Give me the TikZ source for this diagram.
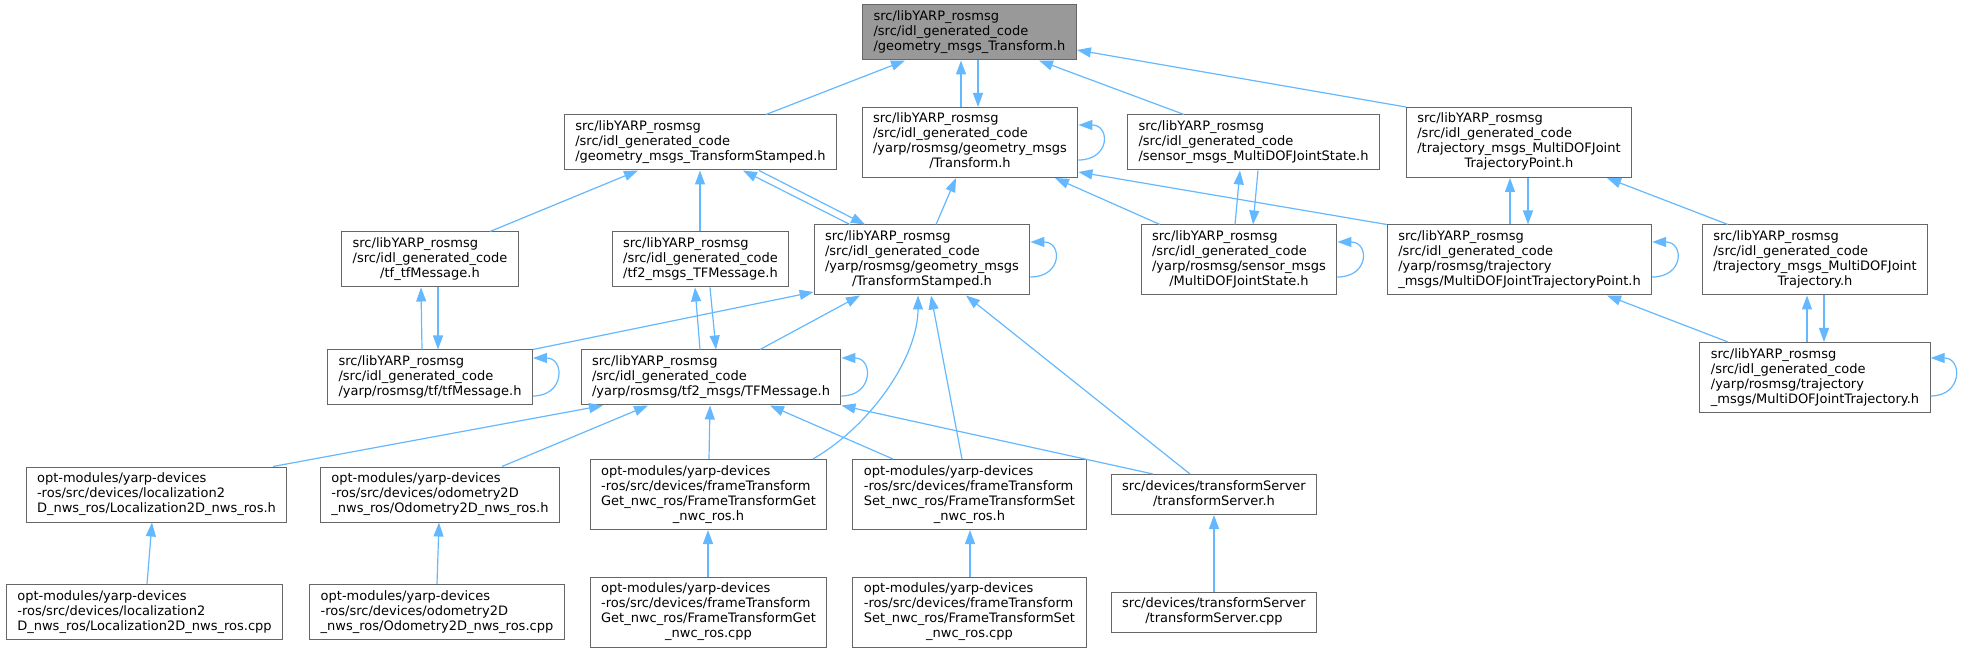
\documentclass[tikz,border=0pt]{standalone}
\usepackage{fontspec}
\setmainfont{DejaVu Sans}
\usepackage{tikz}
\usetikzlibrary{arrows.meta}
\definecolor{bleulien}{RGB}{99, 184, 255}
\definecolor{grisbord}{RGB}{102, 102, 102}
\definecolor{grisracine}{RGB}{153, 153, 153}
\newcommand{\fichier}[2]{\begin{tabular}{@{}l@{}}#1\\\multicolumn{1}{@{}c@{}}{#2}\end{tabular}}
\newcommand{\yarpgen}{src/libYARP\_rosmsg\\/src/idl\_generated\_code}
\newcommand{\optdev}{opt-modules/yarp-devices}

\begin{document}
\begin{tikzpicture}[x=0.75pt, y=-0.75pt,
  fichierbox/.style={draw=grisbord, line width=0.75pt, fill=white,
    inner xsep=8.25pt, inner ysep=3.75pt, font=\fontsize{9.75}{11.25}\selectfont},
  racine/.style={fichierbox, fill=grisracine},
  dep/.style={draw=bleulien, line width=0.9pt, -{Triangle[length=10.5pt, width=7.5pt]}}]
  \useasboundingbox (0,0) rectangle (1961,652);

  \node[racine] (root) at (969.5,32.5) {\fichier{\yarpgen}{/geometry\_msgs\_Transform.h}};

  \node[fichierbox] (gmts) at (700.5,142.5) {\fichier{\yarpgen}{/geometry\_msgs\_TransformStamped.h}};
  \node[fichierbox] (yt) at (970,142.5) {\fichier{\yarpgen\\/yarp/rosmsg/geometry\_msgs}{/Transform.h}};
  \node[fichierbox] (smj) at (1253.5,142.5) {\fichier{\yarpgen}{/sensor\_msgs\_MultiDOFJointState.h}};
  \node[fichierbox] (tmp) at (1519,142.5) {\fichier{\yarpgen\\/trajectory\_msgs\_MultiDOFJoint}{TrajectoryPoint.h}};

  \node[fichierbox] (tf) at (430,259.5) {\fichier{\yarpgen}{/tf\_tfMessage.h}};
  \node[fichierbox] (tf2) at (700.5,259.5) {\fichier{\yarpgen}{/tf2\_msgs\_TFMessage.h}};
  \node[fichierbox] (yts) at (922,260) {\fichier{\yarpgen\\/yarp/rosmsg/geometry\_msgs}{/TransformStamped.h}};
  \node[fichierbox] (ysm) at (1239,260) {\fichier{\yarpgen\\/yarp/rosmsg/sensor\_msgs}{/MultiDOFJointState.h}};
  \node[fichierbox] (ytp) at (1519.5,260) {\fichier{\yarpgen\\/yarp/rosmsg/trajectory}{\_msgs/MultiDOFJointTrajectoryPoint.h}};
  \node[fichierbox] (tmt) at (1815,260) {\fichier{\yarpgen\\/trajectory\_msgs\_MultiDOFJoint}{Trajectory.h}};

  \node[fichierbox] (ytf) at (430,377.5) {\fichier{\yarpgen}{/yarp/rosmsg/tf/tfMessage.h}};
  \node[fichierbox] (ytf2) at (711,377.5) {\fichier{\yarpgen}{/yarp/rosmsg/tf2\_msgs/TFMessage.h}};
  \node[fichierbox] (ytt) at (1815,377.5) {\fichier{\yarpgen\\/yarp/rosmsg/trajectory}{\_msgs/MultiDOFJointTrajectory.h}};

  \node[fichierbox] (loch) at (156.5,494.5) {\fichier{\optdev\\-ros/src/devices/localization2}{D\_nws\_ros/Localization2D\_nws\_ros.h}};
  \node[fichierbox] (odoh) at (440,494.5) {\fichier{\optdev\\-ros/src/devices/odometry2D}{\_nws\_ros/Odometry2D\_nws\_ros.h}};
  \node[fichierbox] (fgh) at (708.5,494.5) {\fichier{\optdev\\-ros/src/devices/frameTransform\\Get\_nwc\_ros/FrameTransformGet}{\_nwc\_ros.h}};
  \node[fichierbox] (fsh) at (969.5,494.5) {\fichier{\optdev\\-ros/src/devices/frameTransform\\Set\_nwc\_ros/FrameTransformSet}{\_nwc\_ros.h}};
  \node[fichierbox] (tsh) at (1214,494.5) {\fichier{src/devices/transformServer}{/transformServer.h}};

  \node[fichierbox] (loccpp) at (144.5,612) {\fichier{\optdev\\-ros/src/devices/localization2}{D\_nws\_ros/Localization2D\_nws\_ros.cpp}};
  \node[fichierbox] (odocpp) at (437,612) {\fichier{\optdev\\-ros/src/devices/odometry2D}{\_nws\_ros/Odometry2D\_nws\_ros.cpp}};
  \node[fichierbox] (fgcpp) at (708.5,612) {\fichier{\optdev\\-ros/src/devices/frameTransform\\Get\_nwc\_ros/FrameTransformGet}{\_nwc\_ros.cpp}};
  \node[fichierbox] (fscpp) at (969.5,612) {\fichier{\optdev\\-ros/src/devices/frameTransform\\Set\_nwc\_ros/FrameTransformSet}{\_nwc\_ros.cpp}};
  \node[fichierbox] (tscpp) at (1214,612) {\fichier{src/devices/transformServer}{/transformServer.cpp}};

  \draw[dep] (766,0 |- gmts.north) -- (905,0 |- root.south);
  \draw[dep] (961,0 |- yt.north) -- (961,0 |- root.south);
  \draw[dep] (978,0 |- root.south) -- (978,0 |- yt.north);
  \draw[dep] (1184,0 |- smj.north) -- (1039,0 |- root.south);
  \draw[dep] (tmp.north west) -- (root.east |- 0,50);

  \draw[dep] (490,0 |- tf.north) -- (638,0 |- gmts.south);
  \draw[dep] (700,0 |- tf2.north) -- (700,0 |- gmts.south);
  \draw[dep] (850,0 |- yts.north) -- (743,0 |- gmts.south);
  \draw[dep] (759,0 |- gmts.south) -- (865,0 |- yts.north);
  \draw[dep] (936,0 |- yts.north) -- (956,0 |- yt.south);
  \draw[dep] (yt.east |- 0,160) .. controls +(32,0) and +(32,0) .. (yt.east |- 0,125);
  \draw[dep] (1160,0 |- ysm.north) -- (1055,0 |- yt.south);
  \draw[dep] (ytp.north west) -- (yt.east |- 0,172);
  \draw[dep] (1235,0 |- ysm.north) -- (1240,0 |- smj.south);
  \draw[dep] (1258,0 |- smj.south) -- (1253,0 |- ysm.north);
  \draw[dep] (1510,0 |- ytp.north) -- (1510,0 |- tmp.south);
  \draw[dep] (1528,0 |- tmp.south) -- (1528,0 |- ytp.north);
  \draw[dep] (1728,0 |- tmt.north) -- (1607,0 |- tmp.south);

  \draw[dep] (yts.east |- 0,277) .. controls +(32,0) and +(32,0) .. (yts.east |- 0,242);
  \draw[dep] (ysm.east |- 0,277) .. controls +(32,0) and +(32,0) .. (ysm.east |- 0,242);
  \draw[dep] (ytp.east |- 0,277) .. controls +(32,0) and +(32,0) .. (ytp.east |- 0,242);

  \draw[dep] (422,0 |- ytf.north) -- (421,0 |- tf.south);
  \draw[dep] (438,0 |- tf.south) -- (438,0 |- ytf.north);
  \draw[dep] (ytf.north east) -- (yts.west |- 0,292);
  \draw[dep] (700,0 |- ytf2.north) -- (695,0 |- tf2.south);
  \draw[dep] (710,0 |- tf2.south) -- (716,0 |- ytf2.north);
  \draw[dep] (760,0 |- ytf2.north) -- (860,0 |- yts.south);
  \draw[dep] (1728,0 |- ytt.north) -- (1607,0 |- ytp.south);
  \draw[dep] (1807,0 |- ytt.north) -- (1807,0 |- tmt.south);
  \draw[dep] (1824,0 |- tmt.south) -- (1824,0 |- ytt.north);

  \draw[dep] (ytf.east |- 0,396) .. controls +(32,0) and +(32,0) .. (ytf.east |- 0,358);
  \draw[dep] (ytf2.east |- 0,396) .. controls +(32,0) and +(32,0) .. (ytf2.east |- 0,358);
  \draw[dep] (ytt.east |- 0,396) .. controls +(32,0) and +(32,0) .. (ytt.east |- 0,358);

  \draw[dep] (273,0 |- loch.north) -- (603,0 |- ytf2.south);
  \draw[dep] (502,0 |- odoh.north) -- (648,0 |- ytf2.south);
  \draw[dep] (709,0 |- fgh.north) -- (710,0 |- ytf2.south);
  \draw[dep] (893,0 |- fsh.north) -- (770,0 |- ytf2.south);
  \draw[dep] (1153,0 |- tsh.north) -- (ytf2.south east);
  \draw[dep] (813,0 |- fgh.north) .. controls +(60,-35) and +(0,60) .. (918,0 |- yts.south);
  \draw[dep] (962,0 |- fsh.north) -- (931,0 |- yts.south);
  \draw[dep] (1190,0 |- tsh.north) -- (966,0 |- yts.south);

  \draw[dep] (147,0 |- loccpp.north) -- (152,0 |- loch.south);
  \draw[dep] (437,0 |- odocpp.north) -- (439,0 |- odoh.south);
  \draw[dep] (708,0 |- fgcpp.north) -- (708,0 |- fgh.south);
  \draw[dep] (970,0 |- fscpp.north) -- (970,0 |- fsh.south);
  \draw[dep] (1214,0 |- tscpp.north) -- (1214,0 |- tsh.south);
\end{tikzpicture}
\end{document}
